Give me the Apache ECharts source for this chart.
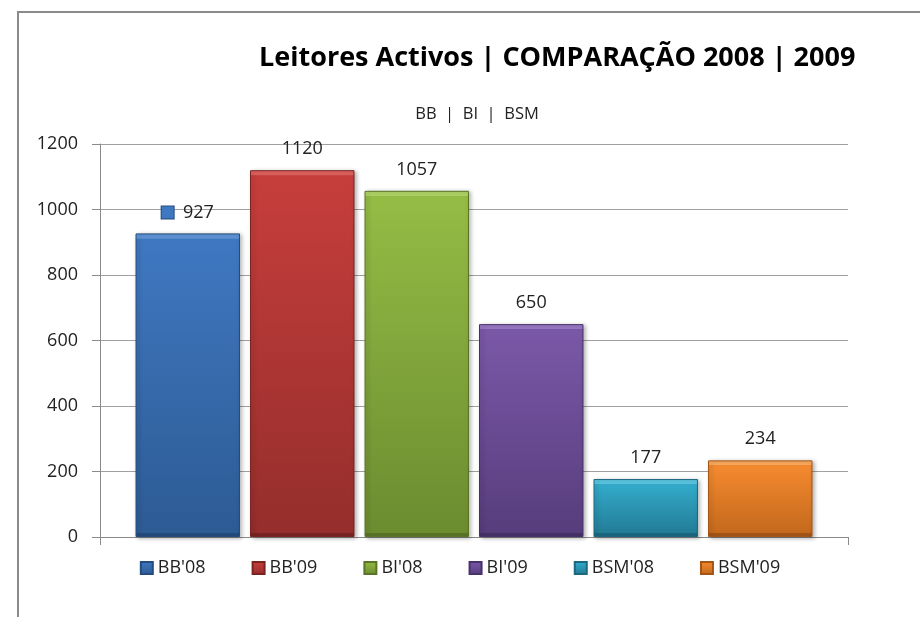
<!DOCTYPE html>
<html><head><meta charset="utf-8">
<script src="https://cdn.jsdelivr.net/npm/echarts@6/dist/echarts.min.js"></script>
<style>html,body{margin:0;padding:0;background:#fff}#c{width:920px;height:617px}</style>
</head><body><div id="c"></div>
<script>
const seriesNames = ["BB'08", "BB'09", "BI'08", "BI'09", "BSM'08", "BSM'09"];
const seriesValues = [927, 1120, 1057, 650, 177, 234];
const yTicks = [0, 200, 400, 600, 800, 1000, 1200];
// [top, bottom, edge, bevel]
const baseColors = [
  ['#3f78c1', '#2d5b94', '#244c7e', '#5f95d8'],
  ['#c63e3c', '#952e2c', '#7a2422', '#e0625f'],
  ['#94bc45', '#6c8c30', '#5a7527', '#b0d466'],
  ['#7a58a8', '#573d7c', '#47316a', '#9878c4'],
  ['#33aacb', '#237d96', '#1b6880', '#5cc6e2'],
  ['#f48a2f', '#c5691d', '#a45617', '#fbab5e']
];
const font = "'Open Sans', 'Noto Sans', sans-serif";
const plotH = 393, yMax = 1200;
const chart = echarts.init(document.getElementById('c'));
const series = seriesNames.map((n, i) => {
  const h = seriesValues[i] / yMax * plotH;
  const b = Math.min(0.3, 5 / h);
  const bb = Math.min(0.3, 4 / h);
  return {
    name: n,
    type: 'bar',
    data: [seriesValues[i]],
    barGap: '9.6%',
    barCategoryGap: '9.5%',
    itemStyle: {
      color: new echarts.graphic.LinearGradient(0, 0, 0, 1, [
        {offset: 0, color: baseColors[i][3]},
        {offset: b, color: baseColors[i][3]},
        {offset: b + 0.001, color: baseColors[i][0]},
        {offset: 1 - bb - 0.001, color: baseColors[i][1]},
        {offset: 1 - bb, color: baseColors[i][2]},
        {offset: 1, color: baseColors[i][2]}
      ]),
      borderColor: baseColors[i][2],
      borderWidth: 1,
      shadowColor: 'rgba(0,0,0,0.3)',
      shadowBlur: 4,
      shadowOffsetX: 2,
      shadowOffsetY: 1
    },
    label: {
      show: true,
      position: 'top',
      distance: 12,
      fontFamily: font,
      fontSize: 18,
      color: '#222',
      formatter: i === 0 ? '{k|}  {v|{c}}' : '{c}',
      rich: {
        k: {width: 12, height: 12, backgroundColor: baseColors[i][0], borderColor: baseColors[i][2], borderWidth: 1},
        v: {fontFamily: font, fontSize: 18, color: '#222'}
      }
    }
  };
});
chart.setOption({
  animation: false,
  backgroundColor: '#fff',
  graphic: [{
    type: 'rect', shape: {x: 18, y: 12, width: 920, height: 620},
    style: {fill: 'none', stroke: '#8a8a8a', lineWidth: 2}, silent: true
  }],
  title: [{
    text: 'Leitores Activos | COMPARAÇÃO 2008 | 2009',
    left: 254, top: 40,
    textStyle: {fontFamily: font, fontSize: 27, fontWeight: 'bold', color: '#000'}
  }, {
    text: 'BB  |  BI  |  BSM',
    left: 472, top: 101, textAlign: 'center',
    textStyle: {fontFamily: font, fontSize: 16.5, fontWeight: 'normal', color: '#222'}
  }],
  grid: {left: 100, right: 72, top: 144, bottom: 80, containLabel: false},
  legend: {
    top: 554, left: 'center',
    itemWidth: 12, itemHeight: 12, itemGap: 46,
    icon: 'rect',
    textStyle: {fontFamily: font, fontSize: 18, color: '#222'},
    data: seriesNames
  },
  xAxis: {
    type: 'category', data: [''],
    axisLine: {lineStyle: {color: '#8a8a8a'}},
    axisTick: {show: true, length: 8, lineStyle: {color: '#8a8a8a'}},
    axisLabel: {show: false}
  },
  yAxis: {
    type: 'value', min: yTicks[0], max: yTicks[yTicks.length - 1], interval: 200,
    axisLine: {show: true, lineStyle: {color: '#8a8a8a'}},
    axisTick: {show: true, length: 8, lineStyle: {color: '#8a8a8a'}},
    splitLine: {lineStyle: {color: '#a0a0a0'}},
    axisLabel: {fontFamily: font, fontSize: 18, color: '#222', margin: 22, formatter: v => String(v)}
  },
  series: series
});
</script></body></html>
